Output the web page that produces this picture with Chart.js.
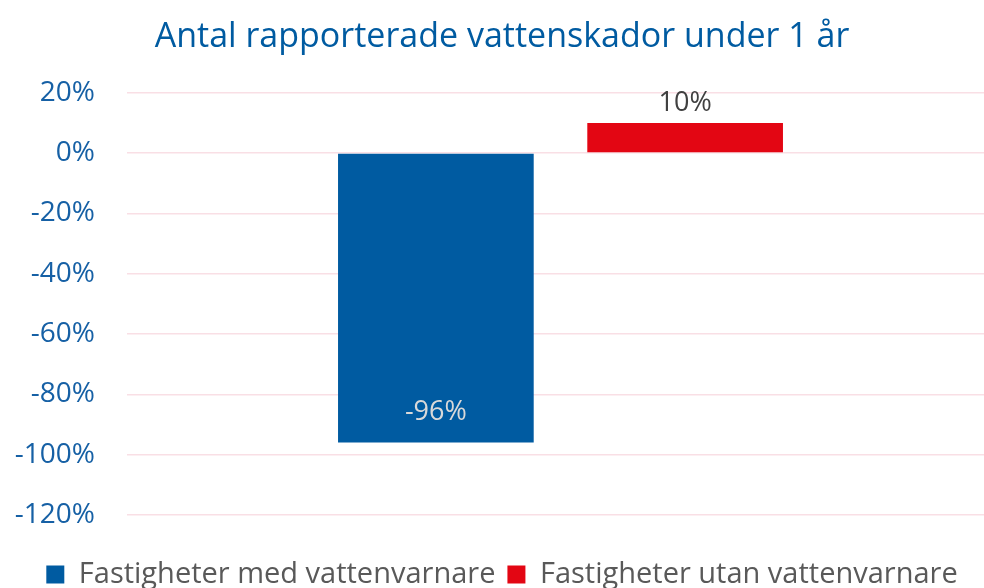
<!DOCTYPE html>
<html>
<head>
<meta charset="utf-8">
<script src="https://cdn.jsdelivr.net/npm/chart.js@4/dist/chart.umd.min.js"></script>
<style>
  html, body { margin: 0; padding: 0; background: #fff; overflow: hidden; }
  #wrap { width: 994px; height: 599px; }
</style>
</head>
<body>
<div id="wrap"><canvas id="myChart"></canvas></div>
<script>
// data
const categories = [""];
const seriesNames = ["Fastigheter med vattenvarnare", "Fastigheter utan vattenvarnare"];
const medVarnare = [-96];
const utanVarnare = [10];
const yTicks = [20, 0, -20, -40, -60, -80, -100, -120];

const fontName = "'Open Sans', 'Noto Sans', sans-serif";

// draws the value labels, -96% inside the blue bar, 10% above the red one
const valueLabels = {
  id: 'valueLabels',
  afterDatasetsDraw(chart) {
    const ctx = chart.ctx;
    ctx.save();
    ctx.font = '27px ' + fontName;
    ctx.textAlign = 'center';
    ctx.textBaseline = 'middle';
    chart.data.datasets.forEach(function(ds, i) {
      const meta = chart.getDatasetMeta(i);
      meta.data.forEach(function(bar, j) {
        const v = ds.data[j];
        if (v < 0) {
          ctx.fillStyle = '#d9d9d9';
          ctx.fillText(v + '%', bar.x, bar.y - 30);
        } else {
          ctx.fillStyle = '#404040';
          ctx.fillText(v + '%', bar.x, bar.y - 20);
        }
      });
    });
    ctx.restore();
  }
};

new Chart(document.getElementById('myChart'), {
  type: 'bar',
  data: {
    labels: categories,
    datasets: [{
      label: seriesNames[0],
      data: medVarnare,
      backgroundColor: '#005ba1'
    }, {
      label: seriesNames[1],
      data: utanVarnare,
      backgroundColor: '#e30613'
    }]
  },
  options: {
    responsive: true,
    maintainAspectRatio: false,
    animation: false,
    categoryPercentage: 0.575,
    barPercentage: 0.785,
    layout: { padding: { top: 17, left: 10, right: 0, bottom: 0 } },
    plugins: {
      title: {
        display: true,
        text: 'Antal rapporterade vattenskador under 1 år',
        color: '#005ba1',
        font: { family: fontName, size: 34, weight: 'normal' },
        padding: { top: 0, bottom: 35 }
      },
      legend: {
        position: 'bottom',
        labels: {
          color: '#595959',
          font: { family: fontName, size: 29 },
          boxWidth: 18,
          boxHeight: 18,
          padding: 12
        }
      },
      tooltip: { enabled: false }
    },
    scales: {
      x: {
        grid: { display: false },
        border: { display: false },
        ticks: { display: false },
        afterFit(axis) {
          axis.height = 33;
        }
      },
      y: {
        min: -120,
        max: 20,
        afterBuildTicks(axis) {
          axis.ticks = yTicks.map(v => ({ value: v }));
        },
        afterFit(axis) {
          axis.width = 117;
        },
        border: { display: false },
        grid: { color: '#f9dfe5', lineWidth: 1.5, drawTicks: false },
        ticks: {
          color: '#1660a5',
          font: { family: fontName, size: 28 },
          padding: 32,
          callback: v => v + '%'
        }
      }
    }
  },
  plugins: [valueLabels]
});
</script>
</body>
</html>
